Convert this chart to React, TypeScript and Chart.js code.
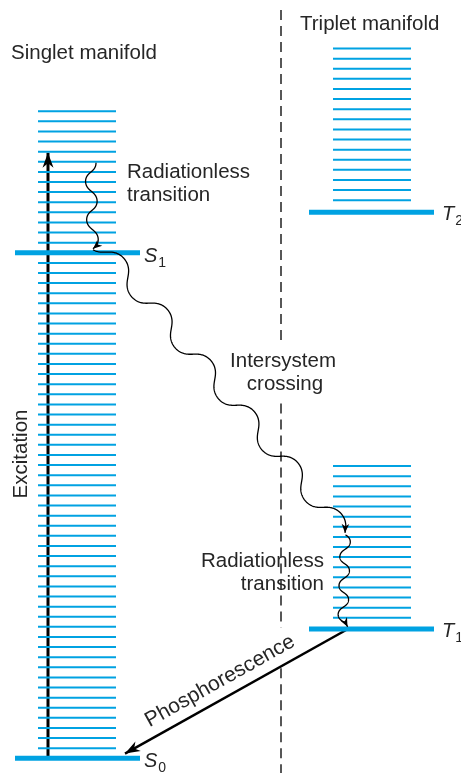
import { useEffect, useRef } from 'react';
import { Chart, registerables } from 'chart.js';

Chart.register(...registerables);

// ---- Data (energy in vibrational-level units, S0 = 0) ----
const singletElectronic = [0, 50]; // S0, S1
const singletVibrational = [
  1, 2, 3, 4, 5, 6, 7, 8, 9, 10, 11, 12, 13, 14, 15, 16, 17, 18, 19, 20, 21, 22, 23, 24, 25,
  26, 27, 28, 29, 30, 31, 32, 33, 34, 35, 36, 37, 38, 39, 40, 41, 42, 43, 44, 45, 46, 47, 48, 49,
  51, 52, 53, 54, 55, 56, 57, 58, 59, 60, 61, 62, 63, 64,
];
const tripletElectronic = [12.8, 54]; // T1, T2
const tripletVibrational = [
  13.9, 14.9, 15.9, 16.9, 17.9, 18.9, 19.9, 20.9, 21.9, 22.9, 23.9, 24.9, 25.9, 26.9, 27.9, 28.9,
  55.2, 56.2, 57.2, 58.2, 59.2, 60.2, 61.2, 62.2, 63.2, 64.2, 65.2, 66.2, 67.2, 68.2, 69.2, 70.2,
];
const singletNames = ['S', 'S'];
const singletSubs = ['0', '1'];
const tripletNames = ['T', 'T'];
const tripletSubs = ['1', '2'];

// transitions: [x, E] pairs
const excitation = [[48, 0], [48, 59.9]];
const radiationlessS = [[96, 58.9], [93, 50.4]];
const intersystem = [[93, 50.3], [345, 22.3]];
const radiationlessT = [[345.5, 22.1], [347.5, 13.0]];
const phosphorescence = [[347, 12.74], [125, 0.47]];
const divider = [[74.0, 41.1], [35.1, 12.9], [8.9, -1.5]];

const BLUE = 'rgb(0,162,226)';
const TEXT = '#262626';
const FONT = '"Liberation Sans", Arial, sans-serif';

// layout (x extents, pixels in x-scale units)
const SINGLET_X = { thin: [38, 116], thick: [15, 140] };
const TRIPLET_X = { thin: [333, 411], thick: [309, 434] };
const DIVIDER_X = 281;

function seg(x1: number, x2: number, e: number, w: number, color: string, dash: number[] = []) {
  return {
    data: [{ x: x1, y: e }, { x: x2, y: e }],
    showLine: true,
    borderColor: color,
    borderWidth: w,
    borderDash: dash,
    borderCapStyle: 'butt',
    pointRadius: 0,
  };
}

function buildDatasets() {
  const ds: any[] = [];
  singletVibrational.forEach((e) => ds.push(seg(SINGLET_X.thin[0], SINGLET_X.thin[1], e, 2, BLUE)));
  tripletVibrational.forEach((e) => ds.push(seg(TRIPLET_X.thin[0], TRIPLET_X.thin[1], e, 2, BLUE)));
  singletElectronic.forEach((e) => ds.push(seg(SINGLET_X.thick[0], SINGLET_X.thick[1], e, 5, BLUE)));
  tripletElectronic.forEach((e) => ds.push(seg(TRIPLET_X.thick[0], TRIPLET_X.thick[1], e, 5, BLUE)));
  divider.forEach(([a, b]) =>
    ds.push({
      data: [{ x: DIVIDER_X, y: a }, { x: DIVIDER_X, y: b }],
      showLine: true,
      borderColor: '#111',
      borderWidth: 1.4,
      borderDash: [10, 6],
      pointRadius: 0,
    })
  );
  ds.push({
    data: excitation.map(([x, y]) => ({ x, y })),
    showLine: true,
    borderColor: '#000',
    borderWidth: 3,
    pointRadius: 0,
  });
  ds.push({
    data: phosphorescence.map(([x, y]) => ({ x, y })),
    showLine: true,
    borderColor: '#000',
    borderWidth: 2.5,
    pointRadius: 0,
  });
  return ds;
}

function arrowHead(ctx: CanvasRenderingContext2D, tx: number, ty: number, dx: number, dy: number, len: number, hw: number) {
  const L = Math.hypot(dx, dy);
  const ux = dx / L, uy = dy / L;
  const nx = -uy, ny = ux;
  ctx.beginPath();
  ctx.moveTo(tx, ty);
  ctx.lineTo(tx - ux * len + nx * hw, ty - uy * len + ny * hw);
  ctx.lineTo(tx - ux * len * 0.7, ty - uy * len * 0.7);
  ctx.lineTo(tx - ux * len - nx * hw, ty - uy * len - ny * hw);
  ctx.closePath();
  ctx.fill();
}

// wavy arrow between two points (end points pinned), lobes rounded by a longitudinal term
function wavy(ctx: CanvasRenderingContext2D, ax: number, ay: number, bx: number, by: number,
  amp: number, cycles: number, phase: number, skew: number) {
  const dx = bx - ax, dy = by - ay;
  const L = Math.hypot(dx, dy);
  const ux = dx / L, uy = dy / L;
  const nx = uy, ny = -ux;
  const th1 = 2 * Math.PI * cycles + phase;
  const N = 600;
  const pts: number[][] = [];
  for (let i = 0; i <= N; i++) {
    const t = i / N;
    const th = 2 * Math.PI * cycles * t + phase;
    const v = amp * (Math.sin(th) - Math.sin(phase) * (1 - t) - Math.sin(th1) * t);
    const u = L * t - (skew / 2) * (Math.sin(2 * th) - Math.sin(2 * phase) * (1 - t) - Math.sin(2 * th1) * t);
    pts.push([ax + ux * u + nx * v, ay + uy * u + ny * v]);
  }
  ctx.beginPath();
  pts.forEach(([x, y], i) => (i ? ctx.lineTo(x, y) : ctx.moveTo(x, y)));
  ctx.stroke();
  const a = pts[N - 14], b = pts[N];
  arrowHead(ctx, b[0], b[1], b[0] - a[0], b[1] - a[1], 9, 3.8);
}

function label(ctx: CanvasRenderingContext2D, x: number, y: number, name: string, sub: string) {
  ctx.textAlign = 'left';
  ctx.textBaseline = 'alphabetic';
  ctx.font = `italic 20px ${FONT}`;
  ctx.fillText(name, x, y);
  const w = ctx.measureText(name).width;
  ctx.font = `14px ${FONT}`;
  ctx.fillText(sub, x + w + 1, y + 5);
}

const overlay = {
  id: 'overlay',
  afterDatasetsDraw(chart: any) {
    const { ctx, scales } = chart;
    const X = (v: number) => scales.x.getPixelForValue(v);
    const Y = (v: number) => scales.y.getPixelForValue(v);
    ctx.save();
    ctx.fillStyle = '#000';
    ctx.strokeStyle = '#000';

    // excitation arrowhead
    const [e0, e1] = excitation;
    arrowHead(ctx, X(e1[0]), Y(e1[1]), 0, Y(e1[1]) - Y(e0[1]), 15, 5.5);

    // phosphorescence arrowhead
    const [p0, p1] = phosphorescence;
    arrowHead(ctx, X(p1[0]), Y(p1[1]), X(p1[0]) - X(p0[0]), Y(p1[1]) - Y(p0[1]), 15, 5.5);

    // wavy transitions
    ctx.lineWidth = 1.3;
    ctx.lineJoin = 'round';
    wavy(ctx, X(radiationlessS[0][0]), Y(radiationlessS[0][1]), X(radiationlessS[1][0]), Y(radiationlessS[1][1]), 5.5, 2.25, Math.PI / 2, 1.5);
    wavy(ctx, X(intersystem[0][0]), Y(intersystem[0][1]), X(intersystem[1][0]), Y(intersystem[1][1]), 9.5, 5.675, -0.35 * Math.PI, 3);
    wavy(ctx, X(radiationlessT[0][0]), Y(radiationlessT[0][1]), X(radiationlessT[1][0]), Y(radiationlessT[1][1]), 5, 3.2, 0, 1.2);

    // texts
    ctx.fillStyle = TEXT;
    ctx.font = `20.5px ${FONT}`;
    ctx.textBaseline = 'alphabetic';
    ctx.textAlign = 'left';
    ctx.fillText('Singlet manifold', 11, 59);
    ctx.fillText('Triplet manifold', 300, 30);
    ctx.fillText('Radiationless', 127, 178);
    ctx.fillText('transition', 127, 201);
    ctx.textAlign = 'right';
    ctx.fillText('Radiationless', 324, 567);
    ctx.fillText('transition', 324, 590);
    ctx.textAlign = 'center';
    ctx.fillText('Intersystem', 283, 367);
    ctx.fillText('crossing', 285, 390);

    // Excitation (vertical)
    ctx.save();
    ctx.translate(27, 454);
    ctx.rotate(-Math.PI / 2);
    ctx.textAlign = 'center';
    ctx.fillText('Excitation', 0, 0);
    ctx.restore();

    // Phosphorescence along the arrow
    const ang = Math.atan2(Y(p1[1]) - Y(p0[1]), X(p1[0]) - X(p0[0]));
    const mx = (X(p0[0]) + X(p1[0])) / 2, my = (Y(p0[1]) + Y(p1[1])) / 2;
    ctx.save();
    ctx.translate(mx, my);
    ctx.rotate(ang + Math.PI);
    ctx.textAlign = 'center';
    ctx.font = `21px ${FONT}`;
    ctx.fillText('Phosphorescence', -9, -11);
    ctx.restore();

    // level labels
    singletElectronic.forEach((e, i) => label(ctx, X(SINGLET_X.thick[1]) + 4, Y(e) + 9, singletNames[i], singletSubs[i]));
    tripletElectronic.forEach((e, i) => label(ctx, X(TRIPLET_X.thick[1]) + 8, Y(e) + 8, tripletNames[i], tripletSubs[i]));
    ctx.restore();
  },
};

export default function App() {
  const ref = useRef<HTMLCanvasElement>(null);
  useEffect(() => {
    const chart = new Chart(ref.current as HTMLCanvasElement, {
      type: 'scatter',
      data: { datasets: buildDatasets() },
      options: {
        animation: false,
        responsive: false,
        events: [],
        layout: { padding: 0 },
        plugins: { legend: { display: false }, tooltip: { enabled: false } },
        scales: {
          x: { type: 'linear', min: 0, max: 461, display: false },
          y: { type: 'linear', min: -1.454, max: 75.0, display: false },
        },
      },
      plugins: [overlay],
    } as any);
    return () => chart.destroy();
  }, []);
  return (
    <div style={{ position: 'fixed', left: 0, top: 0, width: 461, height: 773, background: '#fff' }}>
      <canvas ref={ref} width={461} height={773} style={{ display: 'block' }} />
    </div>
  );
}
